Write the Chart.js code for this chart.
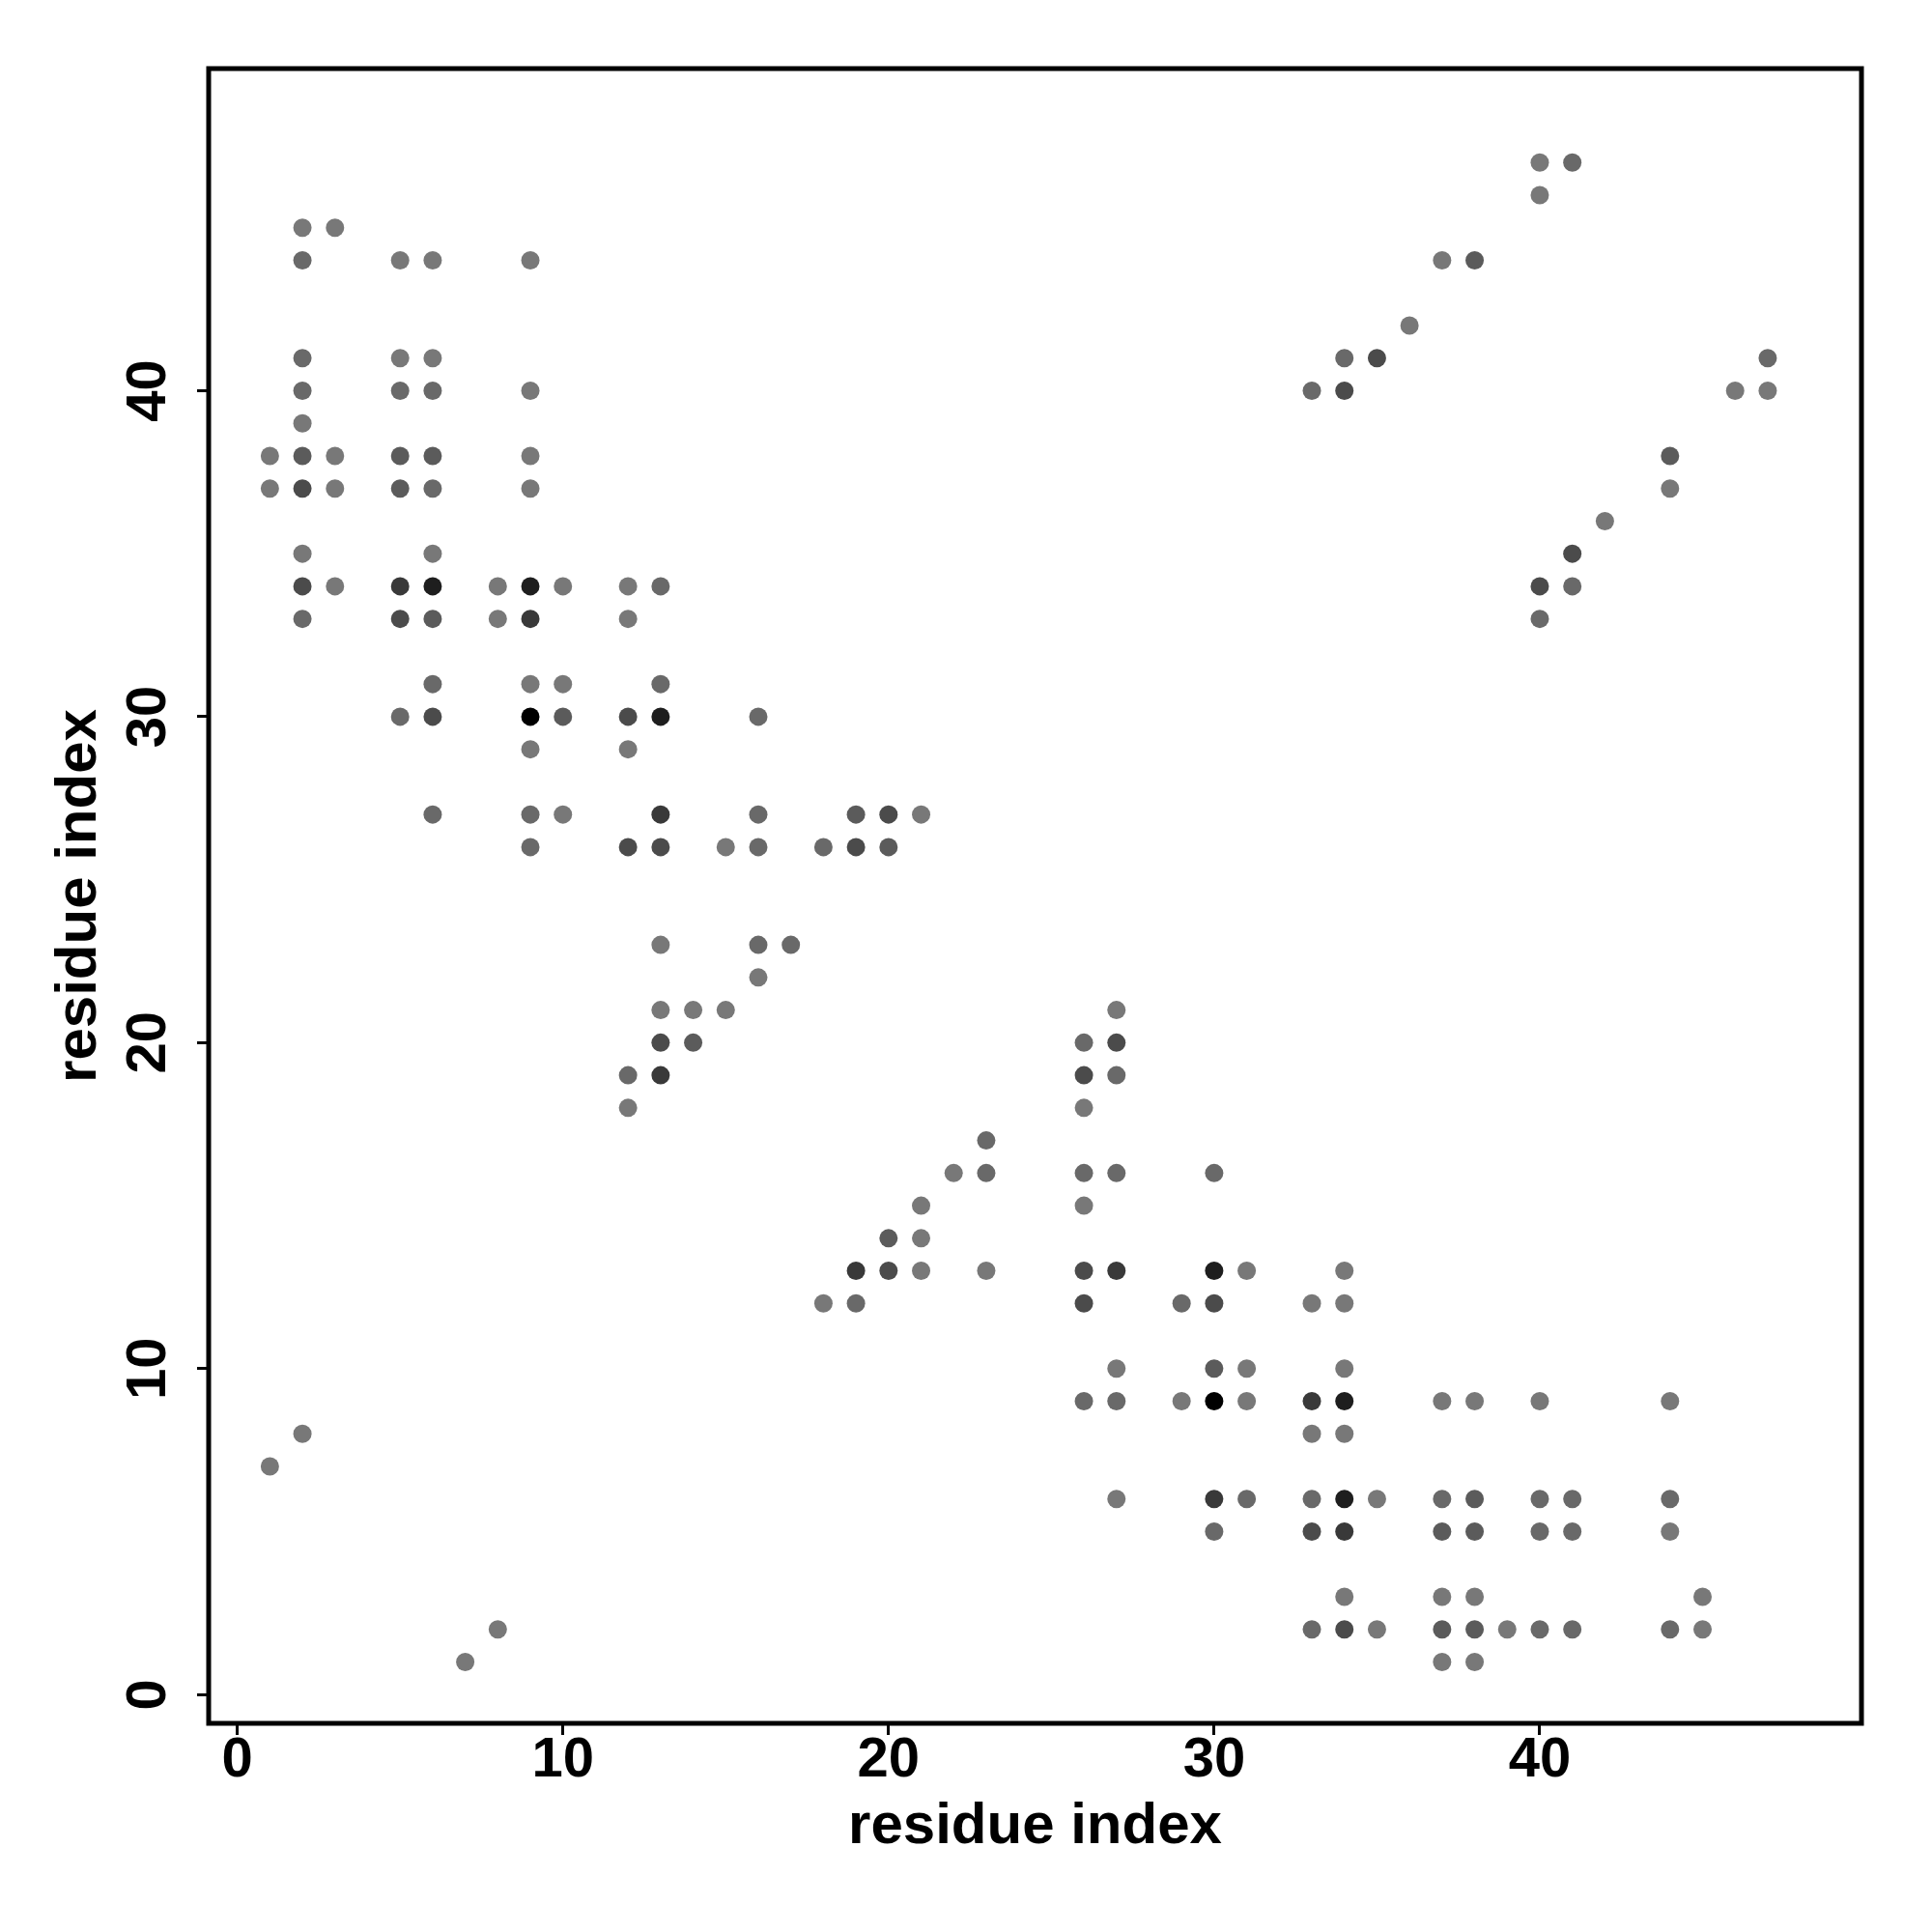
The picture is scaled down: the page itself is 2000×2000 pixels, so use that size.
<!DOCTYPE html>
<html lang="en">
<head>
    <meta charset="UTF-8">
    <title>Residue Contact Map</title>
    <style>
body {
    margin: 0;
    padding: 0;
    background-color: #ffffff;
}

canvas {
    display: block;
}
    </style>
    <script src="https://cdn.jsdelivr.net/npm/chart.js"></script>
</head>
<body>
    <canvas id="contactMap" width="2000" height="2000"></canvas>

    <script>
// Contacts: residue i (x), residue j (y), strength level 1 (weak) .. 7 (strongest)
const contactI = [
    1, 1, 1,
    2, 2, 2, 2, 2, 2, 2, 2, 2, 2, 2,
    3, 3, 3, 3,
    5, 5, 5, 5, 5, 5, 5, 5,
    6, 6, 6, 6, 6, 6, 6, 6, 6, 6, 6,
    7,
    8, 8, 8,
    9, 9, 9, 9, 9, 9, 9, 9, 9, 9, 9,
    10, 10, 10, 10,
    12, 12, 12, 12, 12, 12, 12,
    13, 13, 13, 13, 13, 13, 13, 13, 13,
    14, 14,
    15, 15,
    16, 16, 16, 16, 16,
    17,
    18, 18,
    19, 19, 19, 19,
    20, 20, 20, 20,
    21, 21, 21, 21,
    22,
    23, 23, 23,
    26, 26, 26, 26, 26, 26, 26, 26,
    27, 27, 27, 27, 27, 27, 27, 27,
    29, 29,
    30, 30, 30, 30, 30, 30, 30,
    31, 31, 31, 31,
    33, 33, 33, 33, 33, 33, 33,
    34, 34, 34, 34, 34, 34, 34, 34, 34, 34, 34,
    35, 35, 35,
    36,
    37, 37, 37, 37, 37, 37, 37,
    38, 38, 38, 38, 38, 38, 38,
    39,
    40, 40, 40, 40, 40, 40, 40, 40,
    41, 41, 41, 41, 41, 41,
    42,
    44, 44, 44, 44, 44, 44,
    45, 45,
    46,
    47, 47
];
const contactJ = [
    38, 37, 7,
    45, 44, 41, 40, 39, 38, 37, 35, 34, 33, 8,
    45, 38, 37, 34,
    44, 41, 40, 38, 37, 34, 33, 30,
    44, 41, 40, 38, 37, 35, 34, 33, 31, 30, 27,
    1,
    34, 33, 2,
    44, 40, 38, 37, 34, 33, 31, 30, 29, 27, 26,
    34, 31, 30, 27,
    34, 33, 30, 29, 26, 19, 18,
    34, 31, 30, 27, 26, 23, 21, 20, 19,
    21, 20,
    26, 21,
    30, 27, 26, 23, 22,
    23,
    26, 12,
    27, 26, 13, 12,
    27, 26, 14, 13,
    27, 15, 14, 13,
    16,
    17, 16, 13,
    20, 19, 18, 16, 15, 13, 12, 9,
    21, 20, 19, 16, 13, 10, 9, 6,
    12, 9,
    16, 13, 12, 10, 9, 6, 5,
    13, 10, 9, 6,
    40, 12, 9, 8, 6, 5, 2,
    41, 40, 13, 12, 10, 9, 8, 6, 5, 3, 2,
    41, 6, 2,
    42,
    44, 9, 6, 5, 3, 2, 1,
    44, 9, 6, 5, 3, 2, 1,
    2,
    47, 46, 34, 33, 9, 6, 5, 2,
    47, 35, 34, 6, 5, 2,
    36,
    38, 37, 9, 6, 5, 2,
    3, 2,
    40,
    41, 40
];
const contactLevel = [
    1, 1, 1,
    1, 2, 2, 2, 1, 3, 4, 1, 4, 2, 1,
    1, 1, 1, 1,
    1, 1, 2, 3, 3, 5, 4, 2,
    1, 1, 2, 3, 2, 1, 6, 3, 2, 4, 2,
    1,
    1, 1, 1,
    1, 1, 1, 1, 6, 5, 1, 7, 1, 2, 2,
    1, 1, 3, 1,
    1, 1, 4, 1, 4, 2, 1,
    2, 2, 6, 5, 4, 1, 1, 4, 5,
    1, 3,
    1, 1,
    2, 2, 2, 2, 1,
    2,
    2, 1,
    3, 4, 5, 2,
    4, 3, 3, 4,
    1, 1, 1, 1,
    1,
    2, 2, 1,
    2, 4, 1, 2, 1, 4, 4, 2,
    1, 4, 2, 2, 5, 1, 2, 1,
    2, 1,
    2, 6, 4, 3, 7, 5, 2,
    1, 1, 1, 2,
    2, 1, 5, 1, 2, 4, 2,
    2, 4, 1, 1, 1, 6, 1, 6, 5, 1, 4,
    4, 1, 1,
    1,
    1, 1, 2, 3, 1, 3, 1,
    3, 1, 3, 3, 1, 3, 1,
    1,
    1, 1, 4, 2, 1, 2, 2, 2,
    2, 4, 2, 2, 2, 2,
    1,
    3, 1, 1, 2, 1, 2,
    1, 1,
    1,
    2, 1
];
const axisTicks = [0, 10, 20, 30, 40];
const residueRange = [1, 48];

// grey shade for each strength level
const levelShades = ['#787878', '#696969', '#5b5b5b', '#4b4b4b', '#393939', '#1e1e1e', '#000000'];

const fontFamily = '"Liberation Sans", Arial, Helvetica, sans-serif';

// R-style 4% expansion of the axis range
const span = residueRange[1] - residueRange[0];
const axisMin = residueRange[0] - 0.04 * span;
const axisMax = residueRange[1] + 0.04 * span;

const points = contactI.map((i, k) => ({ x: i, y: contactJ[k] }));
const colors = contactLevel.map(l => levelShades[l - 1]);

// box around the plot and the bold tick labels (y labels rotated like R)
const frameAndLabels = {
    id: 'frameAndLabels',
    afterDraw(chart) {
        const { ctx, chartArea: a, scales: { x, y } } = chart;
        ctx.save();
        ctx.strokeStyle = '#000';
        ctx.lineWidth = 5;
        ctx.strokeRect(a.left, a.top, a.right - a.left, a.bottom - a.top);

        ctx.fillStyle = '#000';
        ctx.font = 'bold 58px ' + fontFamily;
        ctx.textAlign = 'center';
        ctx.textBaseline = 'alphabetic';
        x.ticks.forEach(t => {
            ctx.fillText(String(t.value), x.getPixelForValue(t.value), a.bottom + 55);
        });
        y.ticks.forEach(t => {
            ctx.save();
            ctx.translate(a.left - 45, y.getPixelForValue(t.value));
            ctx.rotate(-Math.PI / 2);
            ctx.fillText(String(t.value), 0, 0);
            ctx.restore();
        });
        ctx.restore();
    }
};

function axisOptions(position, size, titlePadding) {
    return {
        type: 'linear',
        position: position,
        min: axisMin,
        max: axisMax,
        afterBuildTicks: scale => {
            scale.ticks = axisTicks.map(v => ({ value: v }));
        },
        afterFit: scale => {
            if (position === 'left') scale.width = size;
            else scale.height = size;
        },
        ticks: { display: false },
        grid: {
            drawOnChartArea: false,
            drawTicks: true,
            tickLength: 12,
            tickWidth: 3,
            color: '#000'
        },
        border: { display: false },
        title: {
            display: true,
            text: 'residue index',
            color: '#000',
            font: { family: fontFamily, size: 60, weight: 'bold' },
            padding: titlePadding
        }
    };
}

const ctx = document.getElementById('contactMap').getContext('2d');
new Chart(ctx, {
    type: 'scatter',
    data: {
        datasets: [{
            data: points,
            backgroundColor: colors,
            borderWidth: 0,
            pointRadius: 9.5,
            pointHoverRadius: 9.5
        }]
    },
    options: {
        responsive: false,
        animation: false,
        layout: { padding: { top: 71, right: 73, left: 0, bottom: 0 } },
        plugins: {
            legend: { display: false },
            tooltip: { enabled: false }
        },
        scales: {
            x: axisOptions('bottom', 216, { top: 0, bottom: 73 }),
            y: axisOptions('left', 216, { top: 46, bottom: 0 })
        }
    },
    plugins: [frameAndLabels]
});
    </script>
</body>
</html>
